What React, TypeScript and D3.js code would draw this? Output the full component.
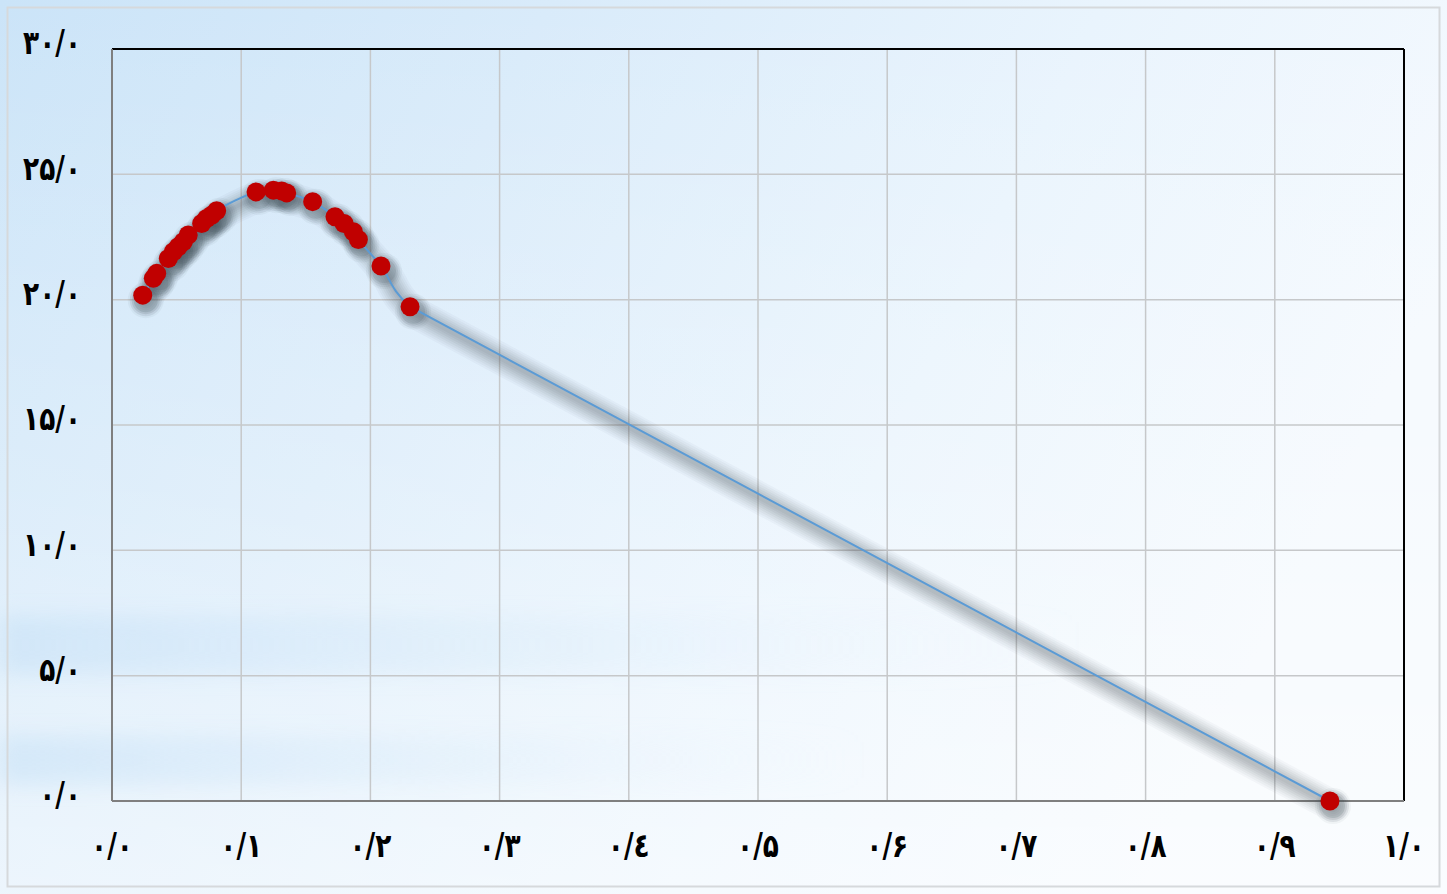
import React from "react";
import * as d3 from "d3";

const xValues = [0.0238, 0.032, 0.0346, 0.0436, 0.0475, 0.0513, 0.0552, 0.059, 0.0694, 0.0732, 0.0771, 0.081, 0.1115, 0.1249, 0.1313, 0.1352, 0.1553, 0.1726, 0.1796, 0.1868, 0.1907, 0.2082, 0.2307, 0.9427];
const yValues = [20.18, 20.85, 21.05, 21.64, 21.91, 22.11, 22.31, 22.58, 23.04, 23.24, 23.37, 23.55, 24.3, 24.37, 24.34, 24.26, 23.91, 23.31, 23.04, 22.71, 22.4, 21.34, 19.72, 0];
const xTicks = [0, 0.1, 0.2, 0.3, 0.4, 0.5, 0.6, 0.7, 0.8, 0.9, 1.0];
const xTickLabels = ["۰/۰", "۰/۱", "۰/۲", "۰/۳", "۰/٤", "۰/۵", "۰/۶", "۰/۷", "۰/۸", "۰/۹", "۱/۰"];
const yTicks = [0, 5, 10, 15, 20, 25, 30];
const yTickLabels = ["۰/۰", "۵/۰", "۱۰/۰", "۱۵/۰", "۲۰/۰", "۲۵/۰", "۳۰/۰"];

const W = 1447;
const H = 894;
const M = { left: 112, right: 1404, top: 49, bottom: 801 };

const shadowLayers = [
  { w: 32, o: 0.035 },
  { w: 28, o: 0.04 },
  { w: 24, o: 0.045 },
  { w: 20, o: 0.05 },
  { w: 16, o: 0.055 },
  { w: 12, o: 0.06 },
  { w: 8, o: 0.06 },
  { w: 4, o: 0.05 },
];
const dotShadowLayers = [
  { r: 18, o: 0.05 },
  { r: 16, o: 0.07 },
  { r: 14, o: 0.09 },
  { r: 12, o: 0.12 },
];

export default function App() {
  const x = d3.scaleLinear().domain([0, 1]).range([M.left, M.right]);
  const y = d3.scaleLinear().domain([0, 30]).range([M.bottom, M.top]);
  const pts: [number, number][] = xValues.map((v, i) => [x(v), y(yValues[i])]);
  const full = d3.line().curve(d3.curveCatmullRom.alpha(0.5))(pts) || "";
  const parts = full.split("C");
  const last = pts[pts.length - 1];
  const line = parts.slice(0, parts.length - 1).join("C") + `L${last[0]},${last[1]}`;
  const font = "'DejaVu Sans', sans-serif";
  const sx = 0.8;

  return (
    <svg width={W} height={H} style={{ position: "absolute", left: 0, top: 0 }}>
      <defs>
        <linearGradient id="bgH" x1="0" y1="0" x2="1" y2="0.3">
          <stop offset="0" stopColor="#cbe4f8" />
          <stop offset="0.35" stopColor="#d9ebfa" />
          <stop offset="0.7" stopColor="#e9f4fd" />
          <stop offset="1" stopColor="#f4f9fe" />
        </linearGradient>
        <linearGradient id="bgV" x1="0" y1="0" x2="0" y2="1">
          <stop offset="0" stopColor="#ffffff" stopOpacity="0" />
          <stop offset="0.55" stopColor="#ffffff" stopOpacity="0.25" />
          <stop offset="1" stopColor="#ffffff" stopOpacity="0.55" />
        </linearGradient>
        <linearGradient id="band" x1="0" y1="0" x2="1" y2="0">
          <stop offset="0" stopColor="#b9daf5" stopOpacity="0.8" />
          <stop offset="0.5" stopColor="#c9e3f8" stopOpacity="0.4" />
          <stop offset="1" stopColor="#e0effc" stopOpacity="0" />
        </linearGradient>
        <filter id="blurBand" x="-10%" y="-100%" width="120%" height="300%">
          <feGaussianBlur stdDeviation="10" />
        </filter>
      </defs>
      <rect x={0} y={0} width={W} height={H} fill="url(#bgH)" />
      <rect x={0} y={0} width={W} height={H} fill="url(#bgV)" />
      <rect x={0} y={615} width={W * 0.75} height={60} fill="url(#band)" filter="url(#blurBand)" opacity={0.5} />
      <rect x={0} y={735} width={W * 0.6} height={50} fill="url(#band)" filter="url(#blurBand)" opacity={0.5} />
      <rect x={7.5} y={7.5} width={W - 15} height={H - 15} fill="none" stroke="#d6d9dc" strokeWidth={2} />

      {/* grid */}
      {xTicks.slice(1, -1).map((t) => (
        <line key={"gx" + t} x1={x(t)} x2={x(t)} y1={M.top} y2={M.bottom} stroke="#c6c8ca" strokeWidth={1.5} />
      ))}
      {yTicks.slice(1, -1).map((t) => (
        <line key={"gy" + t} x1={M.left} x2={M.right} y1={y(t)} y2={y(t)} stroke="#c6c8ca" strokeWidth={1.5} />
      ))}

      {/* frame */}
      <line x1={M.left} x2={M.right} y1={M.top} y2={M.top} stroke="#000" strokeWidth={2} />
      <line x1={M.right} x2={M.right} y1={M.top} y2={M.bottom} stroke="#000" strokeWidth={2} />
      <line x1={M.left} x2={M.left} y1={M.top} y2={M.bottom} stroke="#7f7f7f" strokeWidth={2} />
      <line x1={M.left} x2={M.right} y1={M.bottom} y2={M.bottom} stroke="#7f7f7f" strokeWidth={2} />

      {/* soft shadow built from stacked translucent layers */}
      <g transform="translate(3,5)">
        {shadowLayers.map((l, k) => (
          <path key={"sl" + k} d={line} fill="none" stroke="#3c4650" strokeOpacity={l.o} strokeWidth={l.w} strokeLinecap="round" strokeLinejoin="round" />
        ))}
        {pts.map((p, i) =>
          dotShadowLayers.map((l, k) => (
            <circle key={"sd" + i + "-" + k} cx={p[0]} cy={p[1]} r={l.r} fill="#3c4650" fillOpacity={l.o} />
          ))
        )}
      </g>

      {/* series */}
      <path d={line} fill="none" stroke="#5b9bd5" strokeWidth={2} />
      {pts.map((p, i) => (
        <circle key={"m" + i} cx={p[0]} cy={p[1]} r={9.5} fill="#c00000" />
      ))}

      {/* axis labels */}
      {yTicks.map((t, i) => (
        <g key={"yl" + t} transform={`translate(81,${y(t) - 4}) scale(${sx},1)`}>
          <text x={0} y={0} textAnchor="end" dominantBaseline="middle" fontFamily={font} fontWeight="bold" fontSize={33} letterSpacing={-1} fill="#000" direction="ltr">
            {yTickLabels[i]}
          </text>
        </g>
      ))}
      {xTicks.map((t, i) => (
        <g key={"xl" + t} transform={`translate(${x(t)},848) scale(${sx},1)`}>
          <text x={0} y={0} textAnchor="middle" dominantBaseline="middle" fontFamily={font} fontWeight="bold" fontSize={33} letterSpacing={-1} fill="#000" direction="ltr">
            {xTickLabels[i]}
          </text>
        </g>
      ))}
    </svg>
  );
}
